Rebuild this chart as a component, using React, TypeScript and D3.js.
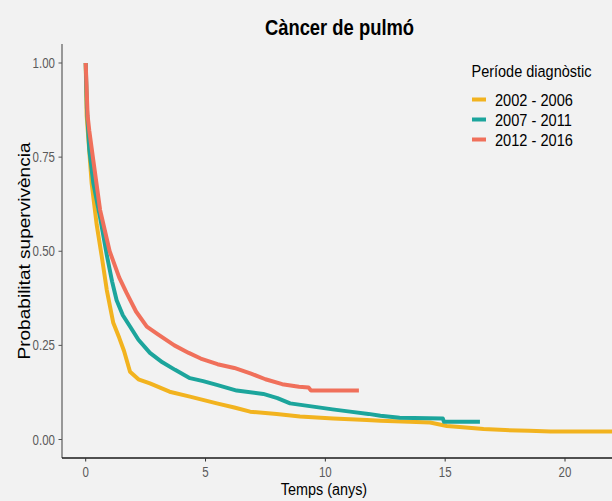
import { useEffect, useRef } from "react";
import * as d3 from "d3";

// survival curves (time in years, survival probability)
const periods = ["2002 - 2006", "2007 - 2011", "2012 - 2016"];
const colors = ["#F2B31F", "#1CA59C", "#F0705B"];

const times0206 = [0, 0.04, 0.25, 0.46, 0.67, 0.88, 1.15, 1.4, 1.6, 1.85, 2.2, 2.68, 3.5, 4.35, 5.47, 6.2, 6.86, 7.97, 8.94, 10.33, 11.73, 12.3, 13.5, 14.37, 15.07, 15.6, 16.6, 17.5, 18.5, 19.4, 23];
const surv0206 = [1.0, 0.86, 0.68, 0.57, 0.486, 0.397, 0.31, 0.27, 0.235, 0.18, 0.16, 0.149, 0.127, 0.114, 0.096, 0.085, 0.074, 0.068, 0.061, 0.056, 0.052, 0.05, 0.047, 0.045, 0.036, 0.033, 0.028, 0.025, 0.023, 0.021, 0.021];

const times0711 = [0, 0.05, 0.15, 0.32, 0.6, 0.88, 1.1, 1.29, 1.55, 1.85, 2.2, 2.68, 3.2, 3.73, 4.35, 4.9, 5.47, 6.3, 7.41, 8.0, 8.53, 9.64, 10.3, 11.03, 11.8, 12.3, 13.1, 14.9, 14.95, 16.45];
const surv0711 = [1.0, 0.88, 0.77, 0.68, 0.59, 0.49, 0.42, 0.37, 0.33, 0.3, 0.265, 0.23, 0.205, 0.185, 0.163, 0.155, 0.145, 0.13, 0.121, 0.11, 0.096, 0.086, 0.08, 0.074, 0.068, 0.063, 0.058, 0.056, 0.047, 0.047];

const times1216 = [0, 0.08, 0.15, 0.32, 0.6, 1.0, 1.4, 1.7, 2.1, 2.55, 3.0, 3.7, 4.3, 4.8, 5.5, 6.2, 6.9, 7.5, 8.2, 8.9, 9.3, 9.4, 11.4];
const surv1216 = [1.0, 0.86, 0.82, 0.74, 0.61, 0.5, 0.43, 0.39, 0.34, 0.3, 0.28, 0.25, 0.23, 0.215, 0.2, 0.19, 0.175, 0.16, 0.147, 0.14, 0.138, 0.13, 0.13];

const xTicks = [0, 5, 10, 15, 20];
const yTicks = [0, 0.25, 0.5, 0.75, 1];

const FONT = "'Liberation Sans', Arial, sans-serif";
const K = 1.17; // the picture is stretched vertically

export default function App() {
  const ref = useRef<SVGSVGElement>(null);

  useEffect(() => {
    drawChart();
  }, []);

  function drawChart() {
    const svg = d3.select(ref.current);
    svg.selectAll("*").remove();

    const left = 62, top = 44, bottom = 458, right = 640;

    const x = d3.scaleLinear().domain([0, 20]).range([85.7, 565]);
    const y = d3.scaleLinear().domain([0, 1]).range([439.5, 63]);

    svg.append("rect").attr("width", 612).attr("height", 501).attr("fill", "#F2F2F2");

    svg.append("clipPath").attr("id", "panel")
      .append("rect")
      .attr("x", left).attr("y", top)
      .attr("width", right - left).attr("height", bottom - top);

    const series = [
      { times: times0206, surv: surv0206 },
      { times: times0711, surv: surv0711 },
      { times: times1216, surv: surv1216 },
    ];

    const line = d3.line<[number, number]>()
      .x((d) => x(d[0]))
      .y((d) => y(d[1]));

    // curves
    svg.append("g")
      .attr("clip-path", "url(#panel)")
      .selectAll("path")
      .data(series)
      .join("path")
      .attr("d", (s) => line(s.times.map((t, i) => [t, s.surv[i]] as [number, number])))
      .attr("fill", "none")
      .attr("stroke", (_, i) => colors[i])
      .attr("stroke-width", 4)
      .attr("stroke-linejoin", "round");

    // axis lines
    svg.append("line")
      .attr("x1", left).attr("x2", left).attr("y1", top).attr("y2", bottom)
      .attr("stroke", "#7a7a7a").attr("stroke-width", 1.5);
    svg.append("line")
      .attr("x1", left).attr("x2", 612).attr("y1", bottom).attr("y2", bottom)
      .attr("stroke", "#1a1a1a").attr("stroke-width", 1.3);

    // y ticks
    const yg = svg.append("g");
    yTicks.forEach((v) => {
      yg.append("line")
        .attr("x1", left - 3.5).attr("x2", left).attr("y1", y(v)).attr("y2", y(v))
        .attr("stroke", "#555").attr("stroke-width", 1);
      yg.append("text")
        .attr("transform", `translate(${left - 7},${y(v) + 5}) scale(1,1.3)`)
        .attr("text-anchor", "end")
        .attr("font-family", FONT).attr("font-size", 11.5)
        .attr("fill", "#5a5a5a")
        .text(d3.format(".2f")(v));
    });

    // x ticks
    const xg = svg.append("g");
    xTicks.forEach((v) => {
      xg.append("line")
        .attr("x1", x(v)).attr("x2", x(v)).attr("y1", bottom).attr("y2", bottom + 3.5)
        .attr("stroke", "#333").attr("stroke-width", 1);
      xg.append("text")
        .attr("transform", `translate(${x(v)},477) scale(1,1.3)`)
        .attr("text-anchor", "middle")
        .attr("font-family", FONT).attr("font-size", 11.5)
        .attr("fill", "#5a5a5a")
        .text(v);
    });

    // titles
    svg.append("text")
      .attr("transform", `translate(339.5,35) scale(1,${K})`)
      .attr("text-anchor", "middle")
      .attr("font-family", FONT).attr("font-size", 18.4).attr("font-weight", "bold")
      .text("Càncer de pulmó");

    svg.append("text")
      .attr("transform", `translate(324,495) scale(1,${K})`)
      .attr("text-anchor", "middle")
      .attr("font-family", FONT).attr("font-size", 14.4)
      .text("Temps (anys)");

    svg.append("text")
      .attr("transform", `translate(30,251) rotate(-90) scale(${K},1)`)
      .attr("text-anchor", "middle")
      .attr("font-family", FONT).attr("font-size", 16.3)
      .text("Probabilitat supervivència");

    // legend
    const lg = svg.append("g");
    lg.append("text")
      .attr("transform", `translate(471.5,77) scale(1,${K})`)
      .attr("font-family", FONT).attr("font-size", 14.5)
      .text("Període diagnòstic");
    periods.forEach((p, i) => {
      const cy = 99.5 + i * 20;
      lg.append("line")
        .attr("x1", 472).attr("x2", 486).attr("y1", cy).attr("y2", cy)
        .attr("stroke", colors[i]).attr("stroke-width", 4);
      lg.append("text")
        .attr("transform", `translate(495,${cy + 6}) scale(1,${K})`)
        .attr("font-family", FONT).attr("font-size", 14.6)
        .text(p);
    });
  }

  return (
    <svg
      ref={ref}
      width={612}
      height={501}
      style={{ position: "absolute", left: 0, top: 0, display: "block" }}
    />
  );
}
